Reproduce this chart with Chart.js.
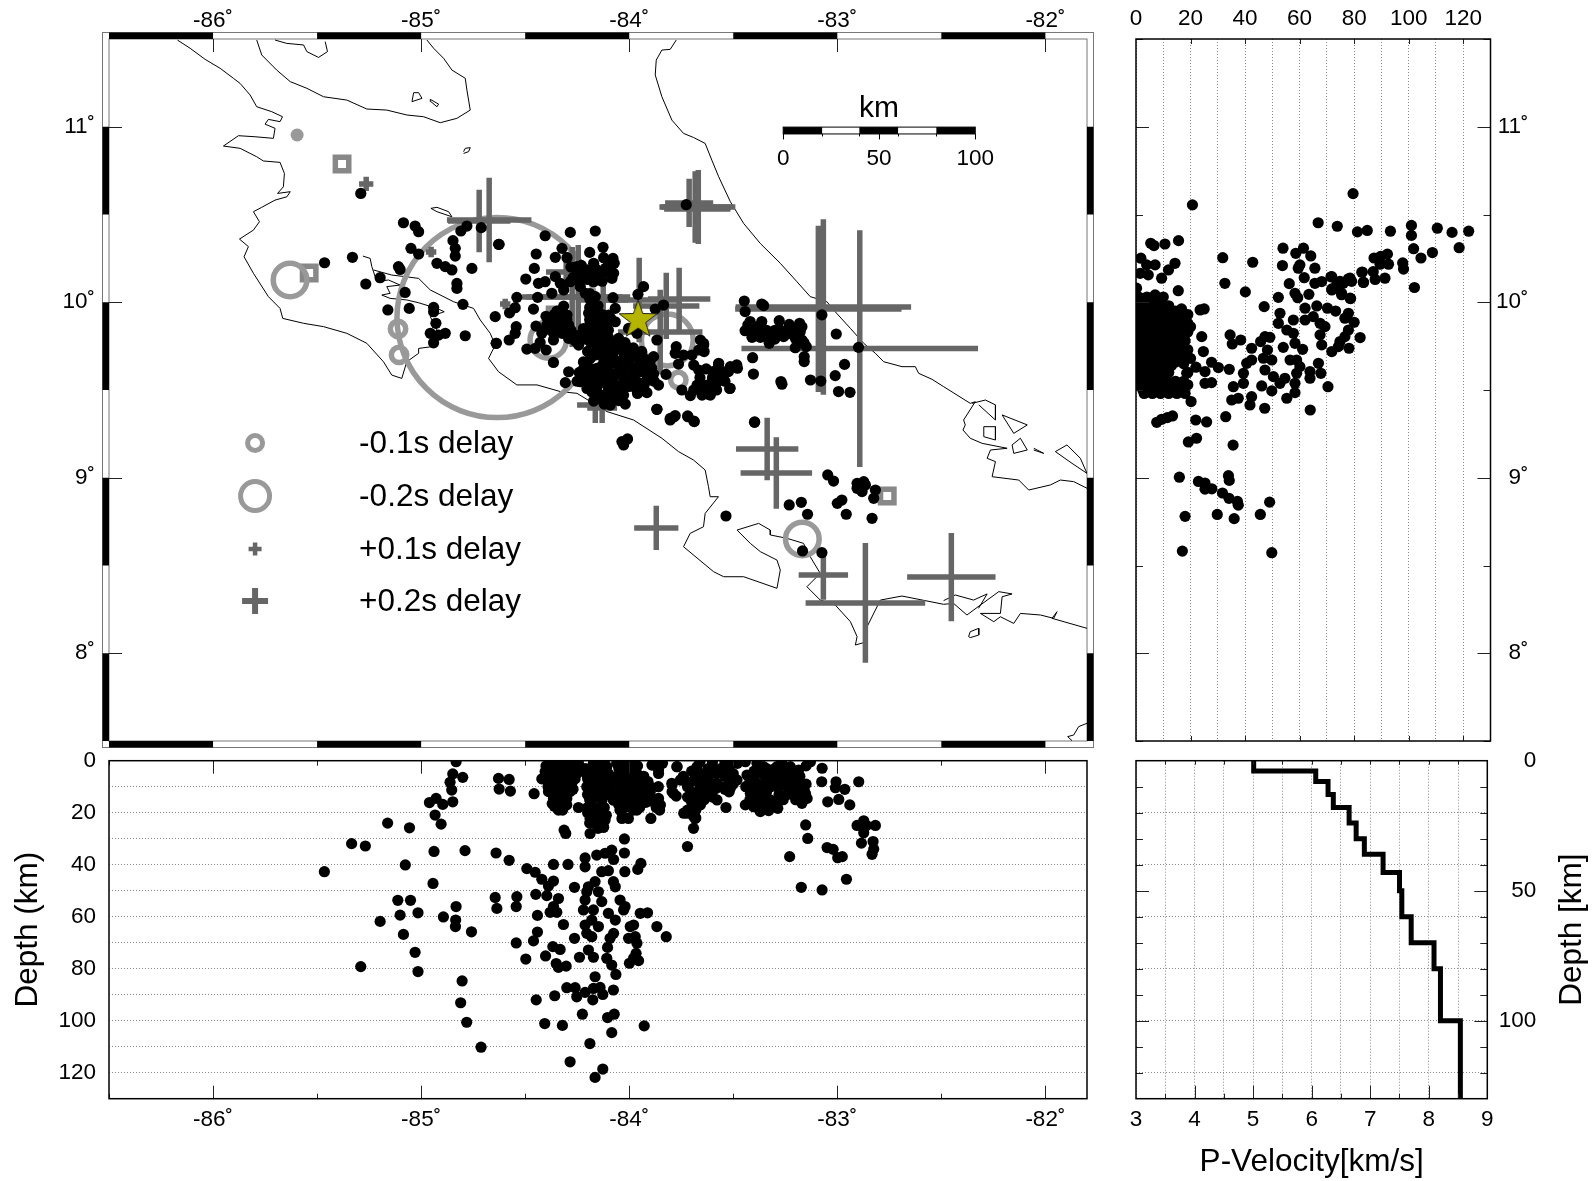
<!DOCTYPE html>
<html>
<head>
<meta charset="utf-8">
<title>Costa Rica delay map</title>
<style>
  html, body { margin: 0; background: #fff; }
  canvas { position: absolute; }
</style>
<script src="https://cdn.jsdelivr.net/npm/chart.js@4"></script>
</head>
<body>
<canvas id="map-chart" style="left:0;top:0" width="1110" height="752"></canvas>
<canvas id="lat-chart" style="left:1110px;top:0" width="484" height="752"></canvas>
<canvas id="lon-chart" style="left:0;top:745px" width="1110" height="436"></canvas>
<canvas id="vel-chart" style="left:1110px;top:745px" width="484" height="436"></canvas>
<script>
// --- DATA ---
const lonEdges = [-86.5, -86, -85.5, -85, -84.5, -84, -83.5, -83, -82.5, -82, -81.8];
const latEdges = [11.5, 11, 10.5, 10, 9.5, 9, 8.5, 8, 7.5];
const lonMajor = [-86, -85, -84, -83, -82];
const lonMinor = [-85.5, -84.5, -83.5, -82.5, -86.5];
const latMajor = [11, 10, 9, 8];
const latMinor = [11.5, 10.5, 9.5, 8.5, 7.5];
const depthLabelled = [20, 40, 60, 80, 100, 120];
const depthMinor = [10, 20, 30, 40, 60, 70, 80, 90, 110, 120];
const depthMajor = [50, 100];
const velMajor = [4, 5, 6, 7, 8];
const velMinor = [3.5, 4.5, 5.5, 6.5, 7.5, 8.5];

// coastlines, [lon, lat]
const coastPacificNorth = [[-86.171,11.494],[-86.110,11.447],[-86.038,11.384],[-85.966,11.333],[-85.902,11.276],[-85.870,11.247],[-85.822,11.181],[-85.790,11.114],[-85.718,11.086],[-85.666,11.057],[-85.678,11.029],[-85.734,11.042],[-85.750,11.015],[-85.702,10.991],[-85.710,10.934],[-85.798,10.943],[-85.878,10.949],[-85.950,10.890],[-85.870,10.877],[-85.790,10.829],[-85.758,10.805],[-85.678,10.797],[-85.657,10.734],[-85.662,10.658],[-85.690,10.620],[-85.629,10.630],[-85.645,10.601],[-85.702,10.582],[-85.766,10.541],[-85.806,10.516],[-85.777,10.459],[-85.806,10.411],[-85.873,10.360],[-85.830,10.317],[-85.851,10.259],[-85.806,10.165],[-85.734,10.032],[-85.678,9.965],[-85.665,9.908],[-85.565,9.880],[-85.469,9.861],[-85.357,9.823],[-85.261,9.766],[-85.181,9.661],[-85.141,9.585],[-85.093,9.566],[-85.069,9.661],[-85.012,9.709],[-85.012,9.737],[-84.948,9.747],[-84.924,9.842],[-84.956,9.918],[-84.889,9.946],[-84.924,9.965],[-85.012,9.997],[-85.069,10.013],[-85.149,10.022],[-85.189,10.041],[-85.149,10.051],[-85.165,10.089],[-85.101,10.098],[-85.157,10.127],[-85.213,10.117],[-85.237,10.203],[-85.245,10.250],[-85.280,10.263]];
const coastPacificSouth = [[-85.229,10.184],[-85.141,10.155],[-85.077,10.146],[-85.012,10.136],[-84.956,10.070],[-84.844,10.003],[-84.748,9.965],[-84.716,9.899],[-84.668,9.823],[-84.644,9.756],[-84.676,9.680],[-84.628,9.604],[-84.540,9.529],[-84.443,9.529],[-84.331,9.491],[-84.251,9.481],[-84.107,9.377],[-83.979,9.329],[-83.843,9.225],[-83.763,9.149],[-83.691,9.101],[-83.635,9.044],[-83.619,8.949],[-83.611,8.892],[-83.571,8.892],[-83.635,8.797],[-83.643,8.721],[-83.707,8.683],[-83.739,8.607],[-83.595,8.465],[-83.546,8.436],[-83.450,8.436],[-83.290,8.370],[-83.274,8.474],[-83.290,8.531],[-83.370,8.579],[-83.418,8.626],[-83.482,8.702],[-83.378,8.740],[-83.322,8.702],[-83.322,8.674],[-83.242,8.655],[-83.162,8.626],[-83.130,8.550],[-83.082,8.455],[-83.146,8.379],[-83.082,8.303],[-83.010,8.275],[-82.937,8.180],[-82.905,8.095],[-82.913,8.047],[-82.857,8.066],[-82.857,8.151],[-82.793,8.303],[-82.689,8.326],[-82.489,8.279],[-82.441,8.284],[-82.377,8.218],[-82.312,8.275],[-82.224,8.351],[-82.160,8.338],[-82.208,8.322],[-82.216,8.227],[-82.312,8.227],[-82.248,8.180],[-82.216,8.208],[-82.152,8.170],[-82.120,8.227],[-82.024,8.218],[-81.960,8.199],[-81.944,8.237],[-81.968,8.199],[-81.800,8.142]];
const coastBurica = [[-82.489,8.300],[-82.433,8.332],[-82.345,8.303],[-82.280,8.338],[-82.321,8.256]];
const coastCaribbean = [[-83.774,11.494],[-83.803,11.441],[-83.843,11.437],[-83.870,11.380],[-83.875,11.295],[-83.843,11.171],[-83.795,11.038],[-83.739,10.962],[-83.691,10.939],[-83.635,10.905],[-83.603,10.810],[-83.570,10.715],[-83.514,10.573],[-83.450,10.449],[-83.370,10.335],[-83.274,10.222],[-83.194,10.117],[-83.130,10.032],[-83.050,10.003],[-83.010,9.946],[-82.937,9.851],[-82.873,9.766],[-82.817,9.709],[-82.777,9.661],[-82.689,9.633],[-82.625,9.633],[-82.609,9.595],[-82.545,9.561],[-82.489,9.519],[-82.361,9.424],[-82.337,9.433],[-82.393,9.329],[-82.385,9.301],[-82.396,9.272],[-82.361,9.225],[-82.304,9.196],[-82.184,9.168],[-82.264,9.158],[-82.280,9.111],[-82.240,9.092],[-82.256,9.006],[-82.128,8.987],[-82.080,8.930],[-81.976,8.959],[-81.928,8.987],[-81.864,8.978],[-81.800,8.940]];
const lakeNicaragua = [[-85.790,11.494],[-85.766,11.409],[-85.694,11.323],[-85.629,11.257],[-85.549,11.219],[-85.469,11.171],[-85.357,11.152],[-85.261,11.101],[-85.165,11.095],[-85.069,11.067],[-84.988,11.057],[-84.908,11.023],[-84.828,11.048],[-84.764,11.095],[-84.780,11.209],[-84.788,11.276],[-84.852,11.323],[-84.892,11.390],[-84.940,11.447],[-84.972,11.494]];
const ometepe = [[-85.702,11.494],[-85.646,11.475],[-85.565,11.466],[-85.549,11.428],[-85.493,11.395],[-85.450,11.428],[-85.461,11.485]];
const islandSolentiname = [[-85.044,11.143],[-85.036,11.194],[-85.012,11.194],[-84.996,11.162],[-85.044,11.143]];
const islandSmall = [[-84.956,11.156],[-84.916,11.129],[-84.924,11.114],[-84.953,11.143],[-84.956,11.156]];
const islandNorth = [[-84.796,10.858],[-84.788,10.877],[-84.764,10.881],[-84.772,10.858],[-84.796,10.848]];
const lakeArenal = [[-84.953,10.535],[-84.924,10.541],[-84.868,10.516],[-84.852,10.487],[-84.924,10.516],[-84.953,10.535]];
const islandCoiba = [[-82.369,8.095],[-82.361,8.123],[-82.320,8.142],[-82.320,8.104],[-82.361,8.089],[-82.369,8.095]];
const coastCorner = [[-81.800,7.601],[-81.840,7.582],[-81.864,7.534],[-81.893,7.525],[-81.872,7.502]];
const bocasA = [[-82.352,9.424],[-82.288,9.443],[-82.240,9.415],[-82.240,9.329],[-82.320,9.415]];
const bocasB = [[-82.296,9.291],[-82.240,9.291],[-82.240,9.215],[-82.296,9.234],[-82.296,9.291]];
const bocasC = [[-82.208,9.358],[-82.087,9.301],[-82.152,9.253],[-82.208,9.358]];
const bocasD = [[-82.160,9.187],[-82.120,9.225],[-82.087,9.158],[-82.152,9.139],[-82.160,9.187]];
const bocasE = [[-82.056,9.168],[-82.008,9.139],[-82.056,9.158]];
const bocasF = [[-81.952,9.149],[-81.896,9.187],[-81.832,9.111],[-81.800,9.025],[-81.872,9.082],[-81.952,9.149]];
const coastLines = [coastPacificNorth, coastPacificSouth, coastBurica, coastCaribbean, lakeNicaragua, ometepe, islandSolentiname, islandSmall, islandNorth, lakeArenal, islandCoiba, coastCorner, bocasA, bocasB, bocasC, bocasD, bocasE, bocasF];

// station delays
const crossLon = [-83.091,-83.067,-82.892,-83.683,-83.668,-83.712,-83.673,-84.721,-84.673,-83.337,-83.293,-83.870,-83.067,-82.865,-82.452,-84.163,-84.130,-85.264,-84.952,-84.596,-83.760,-83.822,-83.952,-83.851,-84.245,-84.274,-84.303,-84.125];
const crossLat = [9.962,9.973,9.736,10.543,10.543,10.566,10.531,10.463,10.469,9.164,9.027,8.714,8.446,8.287,8.434,9.415,9.397,10.674,10.286,9.990,10.019,9.979,10.013,9.830,10.030,10.030,10.172,10.013];
const crossDelay = [1.28,1.35,1.82,0.55,0.57,0.37,0.51,0.48,0.65,0.48,0.55,0.34,0.38,0.92,0.68,0.28,0.23,0.11,0.08,0.08,0.48,0.51,0.65,0.65,0.80,0.77,0.31,0.38];
const ringLon = [-84.635,-85.630,-85.111,-85.106,-83.168,-83.764,-83.817,-84.389];
const ringLat = [9.913,10.127,9.848,9.700,8.651,9.557,9.785,9.785];
const ringDelay = [1.43,0.24,0.11,0.11,0.24,0.11,0.37,0.26];
const squareStations = [[-85.380,10.788],[-85.538,10.167],[-82.760,8.896],[-84.356,9.927]];
const filledStation = [[-85.596,10.953]];
const epicenter = [[-83.957,9.899]];

// delay legend
const legendLabels = ['-0.1s delay', '-0.2s delay', '+0.1s delay', '+0.2s delay'];
const legendDelays = [-0.1, -0.2, 0.1, 0.2];
const legendMarkLat = [9.198, 8.896, 8.594, 8.298];
const legendTextLat = [9.188, 8.886, 8.584, 8.288];
const legendMarkLon = -85.798;
const legendTextLon = -85.298;

// km scale bar
const kmBarLon = [-83.26, -83.072, -82.894, -82.707, -82.524, -82.337];
const kmLabels = ['0', '50', '100'];
const kmLabelLon = [-83.26, -82.8, -82.337];
const kmBarLat = [10.998, 10.959];

// hypocentres in map view, [lon, lat]
const quakesMap = [[-85.290,10.620],[-85.085,10.453],[-85.029,10.434],[-85.012,10.402],[-85.049,10.307],[-85.012,10.275],[-84.847,10.351],[-84.836,10.307],[-84.836,10.263],[-84.924,10.222],[-84.884,10.203],[-84.852,10.184],[-84.828,10.107],[-84.828,10.079],[-84.756,10.193],[-84.628,10.330],[-84.711,10.425],[-84.780,10.434],[-84.809,10.406],[-85.109,10.203],[-85.101,10.187],[-85.330,10.256],[-85.464,10.225],[-85.197,10.140],[-85.266,10.104],[-85.077,10.056],[-85.160,9.956],[-85.057,9.965],[-84.940,9.971],[-84.940,9.946],[-84.799,9.988],[-84.929,9.880],[-84.956,9.823],[-84.916,9.813],[-84.884,9.823],[-84.940,9.769],[-84.788,9.809],[-84.639,9.766],
[-84.625,10.330],[-84.404,10.379],[-84.283,10.398],[-84.163,10.406],[-84.447,10.275],[-84.323,10.307],[-84.355,10.256],[-84.299,10.254],[-84.190,10.284],[-84.126,10.313],[-84.456,10.193],[-84.497,10.132],[-84.436,10.108],[-84.404,10.117],[-84.355,10.146],[-84.331,10.108],[-84.372,10.051],[-84.315,10.070],[-84.283,10.117],[-84.251,10.203],[-84.248,10.165],[-84.243,10.127],[-84.235,10.089],[-84.203,10.184],[-84.171,10.222],[-84.123,10.254],[-84.078,10.250],[-84.072,10.222],[-84.115,10.193],[-84.075,10.165],[-84.083,10.136],[-84.139,10.155],[-84.171,10.117],[-84.540,10.028],[-84.440,10.028],[-84.548,9.969],[-84.575,9.940],[-84.460,9.961],[-84.644,9.918],[-84.315,9.978],[-84.347,9.950],[-84.299,9.927],[-84.372,9.899],[-84.331,9.880],[-84.291,9.870],[-84.396,9.870],[-84.448,9.864],[-84.543,9.861],[-84.548,9.823],[-84.577,9.785],[-84.639,9.766],[-84.420,9.823],[-84.364,9.823],[-84.364,9.785],[-84.323,9.823],[-84.291,9.794],[-84.428,9.771],[-84.492,9.733],[-84.452,9.737],[-84.399,9.728],[-84.364,9.657],[-84.291,9.604],[-84.307,9.542],
[-84.211,10.051],[-84.163,10.032],[-84.171,9.984],[-84.195,9.937],[-84.155,9.889],[-84.211,9.842],[-84.171,9.823],[-84.123,9.804],[-84.243,9.756],[-84.187,9.775],[-84.155,9.737],[-84.099,9.927],[-84.078,10.026],[-84.067,9.965],[-84.067,9.889],[-84.107,9.880],[-84.051,9.794],[-84.091,9.737],[-84.003,9.851],[-83.963,9.823],[-84.051,9.737],[-83.995,9.737],[-83.955,9.699],[-84.027,9.680],[-84.075,9.680],[-84.107,9.642],[-84.187,9.680],[-84.203,9.642],[-84.155,9.623],[-84.091,9.595],[-84.035,9.604],[-83.979,9.623],[-83.923,9.642],[-83.883,9.690],[-83.891,9.623],[-83.883,9.591],[-83.823,9.589],[-83.859,9.528],[-83.915,9.485],[-83.963,9.500],[-83.963,9.547],[-84.027,9.547],[-84.067,9.528],[-84.123,9.547],[-84.187,9.547],[-84.235,9.547],[-84.203,9.509],[-84.155,9.490],[-84.107,9.471],[-84.027,9.471],[-84.019,9.420],[-84.091,9.414],[-84.123,9.433],[-84.171,9.437],[-83.867,9.785],[-83.931,10.089],[-83.958,10.045],[-83.835,9.984],[-83.875,9.961],[-83.867,9.390],[-83.803,9.338],[-83.779,9.354],[-83.719,9.352],[-83.690,9.323],
[-83.774,9.747],[-83.779,9.709],[-83.739,9.699],[-83.698,9.699],[-83.763,9.648],[-83.658,9.785],[-83.642,9.756],[-83.666,9.728],[-83.690,9.642],[-83.666,9.614],[-83.570,9.652],[-83.594,9.604],[-83.546,9.604],[-83.514,9.633],[-83.578,9.547],[-83.626,9.528],[-83.674,9.528],[-83.690,9.500],[-83.747,9.500],[-83.706,9.468],[-83.650,9.471],[-83.610,9.471],[-83.517,9.509],[-84.123,9.680],[-83.995,9.680],[-84.147,9.566],[-83.995,9.585],[-83.947,9.604],[-84.187,9.595],[-84.107,9.550],[-84.050,9.650],
[-84.20,9.72],[-84.16,9.70],[-84.12,9.72],[-84.08,9.70],[-84.03,9.72],[-83.99,9.70],[-83.95,9.66],[-84.18,9.62],[-84.13,9.64],[-84.09,9.65],[-84.05,9.62],[-84.00,9.64],[-83.95,9.63],[-84.22,9.58],[-84.16,9.58],[-84.12,9.59],[-84.07,9.58],[-84.02,9.58],[-83.98,9.57],[-84.20,9.53],[-84.15,9.53],[-84.10,9.51],[-84.06,9.49],[-84.00,9.52],[-84.13,9.47],[-84.08,9.44],[-84.11,9.76],[-84.02,9.77],[-84.06,9.76],[-84.13,9.78],[-84.28,9.84],[-84.25,9.81],[-84.32,9.86],[-84.35,9.85],[-84.26,9.78],[-84.10,9.84],[-84.14,9.86],[-84.19,9.87],[-84.18,9.92],[-84.14,9.92],[-84.15,9.98],[-84.19,10.02],[-84.31,9.90],[-84.34,9.92],[-84.27,10.14],[-84.22,10.14],[-84.18,10.15],[-84.13,10.12],[-84.10,10.17],[-84.24,10.18],
[-84.28,10.20],[-84.23,10.21],[-84.20,10.16],[-84.16,10.19],[-84.13,10.16],[-84.10,10.21],[-84.09,10.18],[-84.20,10.13],[-84.40,9.92],[-84.36,9.93],[-84.33,9.95],[-84.38,9.87],[-84.34,9.87],[-84.30,9.90],[-84.41,9.84],[-84.37,9.84],[-84.33,9.85],[-84.30,9.84],[-84.19,10.05],[-84.17,10.0],[-84.19,9.97],[-84.17,9.94],[-84.15,9.92],[-84.19,9.90],[-84.13,9.93],[-84.12,9.88],[-84.09,9.91],[-84.22,9.85],[-84.18,9.84],[-84.14,9.82],[-84.10,9.80],[-84.21,9.79],[-84.16,9.79],[-84.08,9.76],[-84.04,9.76],[-84.22,9.66],[-84.22,9.62],[-84.25,9.55],[-84.24,9.60],[-83.92,9.60],[-83.90,9.66],[-83.92,9.55],[-83.88,9.55],[-83.93,9.68],[-83.98,9.74],[-83.94,9.72],[-84.03,9.50],[-84.18,9.49],[-84.05,9.44],[-84.12,9.42],[-83.96,9.48],[-83.93,9.52],[-83.63,9.62],[-83.60,9.57],[-83.56,9.57],[-83.62,9.50],[-83.58,9.50],[-83.54,9.55],[-83.66,9.57],[-83.43,9.87],[-83.39,9.86],[-83.34,9.84],[-83.30,9.84],[-83.24,9.84],[-83.21,9.85],[-83.17,9.86],[-83.19,9.81],[-83.16,9.77],[-83.30,9.79],[-83.37,9.80],[-83.41,9.80],[-83.34,9.80],[-83.24,9.82],
[-83.447,10.007],[-83.443,9.947],[-83.363,9.990],[-83.354,9.981],[-83.419,9.890],[-83.363,9.890],[-83.279,9.895],[-83.231,9.874],[-83.181,9.880],[-83.443,9.838],[-83.403,9.823],[-83.371,9.842],[-83.355,9.804],[-83.327,9.766],[-83.306,9.814],[-83.274,9.842],[-83.258,9.804],[-83.178,9.833],[-83.202,9.795],[-83.170,9.785],[-83.202,9.741],[-83.149,9.747],[-83.159,9.690],[-83.159,9.662],[-83.074,9.928],[-83.005,9.819],[-82.898,9.743],[-82.965,9.646],[-83.010,9.582],[-83.079,9.551],[-83.129,9.557],[-82.994,9.491],[-82.939,9.487],[-83.407,9.684],[-83.403,9.591],[-83.271,9.548],[-83.266,9.533],[-83.398,9.316],[-83.515,9.510],[-83.483,9.643],[-83.480,9.624],[-83.523,9.605],[-83.571,9.643],[-83.595,9.605],[-83.563,9.576],[-83.587,9.529],[-83.619,9.476],[-83.659,9.500],[-83.643,9.766],[-83.640,9.719],
[-83.867,9.390],[-83.803,9.329],[-83.784,9.348],[-83.718,9.348],[-83.687,9.320],[-84.027,9.187],[-84.008,9.221],[-84.035,9.206],[-83.397,9.318],[-83.046,9.016],[-83.018,8.981],[-82.905,8.968],[-82.873,8.978],[-82.905,8.940],[-82.881,8.921],[-82.865,8.959],[-82.817,8.930],[-82.825,8.883],[-82.978,8.873],[-83.000,8.854],[-82.957,8.792],[-82.833,8.769],[-83.231,8.845],[-83.173,8.860],[-83.143,8.792],[-83.535,8.782],[-83.167,8.583],[-83.074,8.573],[-83.726,10.556]];

// hypocentres, longitude against depth
const quakesLonDepth = [[-84.832,0.4],[-84.848,5.1],[-84.800,6.4],[-84.861,8.3],[-84.853,11.3],[-84.628,6.8],[-84.577,7.2],[-84.625,10.9],[-84.571,11.7],[-84.457,12.7],[-84.928,14.5],[-84.960,16.1],[-84.896,16.8],[-84.848,15.8],[-84.933,20.9],[-84.904,24.4],[-85.161,24.0],[-85.056,25.8],[-85.334,31.9],[-85.268,32.8],[-84.938,34.9],[-84.789,34.6],[-84.640,35.5],[-84.577,38.3],[-85.076,40.1],[-85.465,42.7],[-84.943,47.2],[-84.492,41.5],[-84.452,42.9],[-84.420,45.6],[-84.388,48.2],[-84.364,46.3],[-84.364,39.9],[-84.294,39.9],[-84.212,37.4],[-84.212,40.8],[-84.156,36.3],[-84.116,35.6],[-84.084,34.4],[-84.075,38.0],[-84.023,30.1],[-84.023,35.5],[-83.944,39.5],[-83.959,41.8],[-84.021,42.7],[-84.100,42.3],[-84.132,42.7],[-84.076,46.5],[-84.067,48.5],[-84.263,48.7],[-84.196,48.5],[-84.164,46.5],[-84.204,50.4],[-84.148,50.4],[-84.449,51.4],[-84.396,51.9],[-84.340,53.0],[-84.212,53.6],[-84.132,54.2],[-84.044,53.6],[-84.020,56.1],[-84.644,52.6],[-84.540,52.3],[-84.543,56.1],[-84.636,56.8],[-85.112,53.7],[-85.051,53.7],[-84.832,56.1],[-85.101,59.4],[-85.015,58.5],[-84.893,60.1],[-84.834,61.3],[-84.835,63.8],[-85.197,61.8],[-84.758,65.8],[-85.085,66.8],[-84.441,59.5],[-84.364,56.1],[-84.380,58.3],[-84.348,58.3],[-84.220,57.4],[-84.172,57.4],[-84.100,58.7],[-84.067,61.3],[-84.027,57.4],[-83.947,58.7],[-83.912,58.5],[-84.316,63.0],[-84.212,63.2],[-84.180,61.3],[-84.148,63.8],[-84.204,66.4],[-84.180,67.7],[-84.075,66.4],[-84.092,68.3],[-84.104,71.8],[-83.979,63.2],[-83.995,63.8],[-84.003,68.3],[-83.971,67.7],[-83.963,70.2],[-83.867,63.8],[-83.822,67.7],[-84.441,65.9],[-84.460,69.3],[-84.543,70.1],[-84.263,68.3],[-84.367,71.5],[-84.332,72.6],[-84.196,72.8],[-84.172,75.6],[-84.239,75.6],[-84.402,75.1],[-84.497,76.3],[-84.351,78.0],[-84.340,79.5],[-84.303,79.0],[-84.108,76.0],[-84.084,78.6],[-84.064,82.2],[-83.967,74.1],[-83.979,76.0],[-83.955,76.9],[-83.999,77.9],[-85.029,73.7],[-85.290,79.2],[-85.015,81.1],[-84.803,84.7],[-84.164,83.1],[-84.300,87.3],[-84.260,87.3],[-84.252,90.8],[-84.212,89.1],[-84.172,87.6],[-84.140,87.2],[-84.127,89.9],[-84.076,88.2],[-84.175,92.0],[-84.358,90.4],[-84.447,92.0],[-84.810,93.1],[-84.225,97.5],[-84.072,97.5],[-84.104,98.8],[-84.781,100.6],[-84.406,101.1],[-84.321,101.8],[-83.928,102.0],[-84.084,104.6],[-84.189,108.8],[-84.712,110.2],[-84.284,115.8],[-84.127,118.6],[-84.164,121.8],
[-84.313,26.7],[-84.305,28],[-84.188,28],[-83.720,33.0],[-84.044,19],[-84.031,21.5],[-84.004,22.2],[-83.896,22.2],[-84.404,4.2],[-84.364,3.6],[-84.300,2.9],[-84.252,4.9],[-84.388,8.7],[-84.332,8.7],[-84.276,8.7],[-84.388,11.9],[-84.332,12.6],[-84.284,11.9],[-84.348,17.0],[-84.316,17.0],[-84.364,1.0],[-84.300,1.0],[-84.244,1.0],[-84.364,14.5],[-84.300,14.5],[-84.204,5.5],[-84.172,1.0],[-84.108,2.3],[-84.204,10],[-84.188,13.8],[-84.188,17],[-84.244,18],[-84.188,22.2],[-84.148,20.9],[-84.124,25.6],[-84.116,22.8],[-84.156,7.4],[-84.116,8.7],[-84.076,15.1],[-84.060,1],[-83.995,1],[-83.963,4.9],[-84.060,6.1],[-84.011,7.4],[-83.963,10],[-83.995,13.2],[-83.947,15.1],[-83.963,19],[-83.899,10],[-83.859,14.5],[-83.854,19],[-83.875,1],[-83.859,4.9],[-83.771,2.3],[-83.795,8.7],[-83.787,12.6],[-83.747,7.4],[-83.691,12.6],[-83.675,17],[-83.723,20.2],[-83.683,22.2],[-83.691,26],
[-83.073,2.9],[-83.075,8.1],[-83.006,8.1],[-83.009,10.4],[-82.964,11.0],[-82.897,8.1],[-83.046,15.8],[-82.993,14.9],[-82.940,17.0],[-82.873,23.1],[-82.905,24.9],[-82.860,24.9],[-82.817,24.9],[-82.873,27.7],[-82.884,31.7],[-82.828,31.1],[-82.825,34.0],[-82.833,36.0],[-83.049,33.4],[-83.020,34.1],[-82.998,37.3],[-82.976,36.9],[-83.152,24.7],[-83.142,29.9],[-83.229,36.9],[-82.956,45.6],[-83.173,48.7],[-83.073,49.7],[-83.690,21.5],[-83.738,20.2],[-83.658,17],[-83.626,11.3],[-83.698,12.6],[-83.578,15.1],[-83.535,18],[-83.514,10.6],[-83.578,8.7],[-83.482,7.4],[-83.658,6.1],[-83.594,3.6],[-83.674,2.3],[-83.522,1.7],[-83.754,7.4],[-83.794,9.3],[-83.794,11.9],[-83.774,13.6],[-83.859,3.6],[-83.891,1.7],[-83.899,12],[-83.875,16],[-83.770,2.3],[-83.434,5.5],[-83.354,2.3],[-83.290,2.3],[-83.386,8.7],[-83.322,7.4],[-83.290,10],[-83.418,12.6],[-83.370,12.6],[-83.322,15.1],[-83.442,17],[-83.402,17.7],[-83.370,19.6],[-83.330,19.2],[-83.286,18.3],[-83.226,11.3],[-83.178,9.3],[-83.210,12.6],[-83.153,12.6],[-83.145,14.5],[-83.170,16.4],[-83.186,3.6],[-83.226,2.3],[-83.129,0.4],[-83.442,0.4],[-83.266,1],[-83.386,1],[-84.115,2.3],[-84.043,4.9],[-83.971,4.9],[-84.115,8.7],[-84.043,10],[-83.971,10.6],[-84.075,15.1],[-83.987,15.1],[-83.947,15.8],[-84.043,19],[-84.035,22.2],[-84.131,22.8],[-84.123,25.6],
[-84.35,6],[-84.31,6],[-84.27,6.5],[-84.37,10.5],[-84.31,10.5],[-84.36,14],[-84.33,15],[-84.30,12],[-84.40,6.5],[-84.34,2],[-84.27,2.5],[-84.39,10],[-84.36,17.5],[-84.18,4],[-84.14,4],[-84.10,5],[-84.18,8],[-84.14,10],[-84.20,13],[-84.16,14],[-84.12,12],[-84.16,18],[-84.12,18],[-84.17,24],[-84.14,23],[-84.20,18],[-84.09,10],[-84.03,3],[-83.99,4],[-84.03,8],[-83.99,8],[-83.96,7],[-84.02,12],[-83.98,11],[-84.06,13],[-84.0,17],[-83.97,16],[-84.03,16],[-83.93,13],
[-83.70,8],[-83.66,9],[-83.62,7],[-83.58,5],[-83.54,6],[-83.70,4],[-83.62,3],[-83.56,10],[-83.60,12],[-83.66,13],[-83.52,8],[-83.64,15],[-83.70,16],[-83.68,19],[-83.40,4],[-83.36,5],[-83.32,4],[-83.28,5],[-83.24,5],[-83.20,6],[-83.42,8],[-83.35,9],[-83.30,8],[-83.26,8],[-83.22,8],[-83.38,15],[-83.34,12],[-83.40,10],[-83.28,13],[-83.30,16],[-83.18,13],[-83.20,15],[-83.35,17],[-83.24,10],[-83.15,2],[-83.66,0.5],[-83.60,0.5],[-83.54,0.5],[-83.48,1],[-83.88,0.5],[-83.84,1],[-84.16,0.5],[-84.12,0.5],[-84.28,0.5],[-84.02,0.5],
[-84.40,2],[-84.36,7],[-84.33,5],[-84.28,5],[-84.24,3],[-84.35,9],[-84.30,9],[-84.37,12.5],[-84.34,11],[-84.31,13.5],[-84.27,11],[-84.35,16],[-84.32,19],[-84.34,19],[-84.30,17],[-84.37,16.5],[-84.33,1],[-84.27,1],[-84.26,7],[-84.39,5],[-84.42,7],[-84.21,3],[-84.18,6],[-84.15,3],[-84.12,6],[-84.20,7],[-84.17,11],[-84.14,7],[-84.10,8],[-84.19,15],[-84.16,11],[-84.13,15],[-84.20,20],[-84.17,20],[-84.14,19],[-84.11,21],[-84.15,26],[-84.19,24],[-84.10,13],[-84.07,9],[-84.05,3],[-84.02,6],[-83.99,6],[-83.96,2],[-83.93,6],[-84.04,10],[-84.0,10],[-83.97,13],[-83.94,10],[-84.04,14],[-84.0,14],[-84.05,17],[-84.02,18],[-83.98,19],[-83.95,18],[-83.92,16],[-83.90,14],[-83.88,16],[-83.91,8],[-83.86,10],[-83.87,18],[-83.85,17],[-83.72,10],[-83.74,6],[-83.68,6],[-83.64,5],[-83.60,3],[-83.56,3],[-83.52,3],[-83.50,5],[-83.66,11],[-83.62,10],[-83.58,10.5],[-83.54,11],[-83.50,9],[-83.72,14],[-83.68,15],[-83.60,14],[-83.66,17],[-83.72,19],[-83.68,22],[-83.52,12],[-83.70,12],[-83.44,10],[-83.40,6.5],[-83.38,3],[-83.34,3],[-83.30,3],[-83.26,3],[-83.22,4],[-83.18,6],[-83.38,11],[-83.34,7],[-83.30,6],[-83.26,6],[-83.22,6],[-83.40,13],[-83.36,14],[-83.32,10],[-83.28,10],[-83.24,13],[-83.21,10],[-83.26,15],[-83.42,15],[-83.33,17],[-83.38,18],[-83.16,11],[-83.19,11],[-83.17,14],[-83.15,9]];

// hypocentres, depth against latitude
const quakesDepthLat = [[20.7,10.555],[79.6,10.619],[66.8,10.453],[73.8,10.433],[81.2,10.401],[84.8,10.409],[93.3,10.405],[101.0,10.438],[101.0,10.381],[110.5,10.422],[115.9,10.398],[122.0,10.405],[118.5,10.311],[108.7,10.283],[104.5,10.252],[101.8,10.305],[102.1,10.084],[97.8,10.224],[98.1,10.189],[92.2,10.274],[89.7,10.261],[87.3,10.252],[92.6,10.217],[89.5,10.217],[87.0,10.174],[91.3,10.137],[87.7,10.130],[83.0,10.172],[83.4,10.113],[79.1,10.119],[77.9,10.134],[74.8,10.119],[71.5,10.145],[71.8,10.076],[75.4,10.043],[78.7,10.021],
[5.4,10.336],[6.6,10.323],[10.6,10.332],[15.6,10.351],[1.8,10.251],[1.5,10.165],[3.9,10.213],[7,10.213],[9.4,10.137],[11.9,10.184],[14.3,10.222],[4.5,10.156],[0.2,10.080],[15.5,10.066],[7,10.042],[31.8,10.254],[32.6,10.108],[42.8,10.228],[40.1,10.059],[47,9.975],[52.2,10.028],[53.9,10.308],[58.6,10.279],[61.4,10.308],[64.1,10.264],[53.7,10.209],[59.5,10.194],[60.1,10.213],[65.6,10.194],[61.7,10.140],[56.2,10.106],[58.3,10.051],[59.3,10.026],[63.4,10.045],[71.8,10.146],[68.1,10.118],[65.6,10.108],[73.6,10.099],[71.8,10.070],[76,10.108],[78.5,10.137],[75.4,10.051],[78.5,10.023],[82.8,10.171],[83.4,10.114],[62,9.966],[66.3,9.979],[70.2,9.966],[73.2,9.950],[77.9,9.937],[76.6,9.909],[80,9.886],[77.9,9.842],[76.6,9.804],[74.8,9.776],[71.8,9.719],[74.2,9.747],[78.1,9.738],[82.2,9.799],[52.8,9.937],[52.2,9.880],[57.7,9.899],[62,9.899],[65,9.918],[67.5,9.880],[69.3,9.861],[67.5,9.814],[68.1,9.757],[55.3,9.842],[57.7,9.823],[58.3,9.766],[61.1,9.732],[54,9.743],[56.5,9.671],[58.9,9.671],[47.3,9.804],[49.1,9.800],[45.7,9.776],[42.4,9.738],[48.2,9.728],[46.7,9.681],[49.8,9.671],[34.5,9.814],[38.4,9.785],[35.3,9.762],[47.3,9.614],[50.4,9.576],[54.6,9.567],[58.9,9.595],[60.1,9.633],[58.3,9.538],[46.1,9.523],[49.8,9.495],[52.8,9.538],[55.3,9.453],[58.3,9.485],[63.8,9.605],[63.8,9.567],[66.9,9.652],[67.8,9.595],[70.4,9.519],[40.6,9.652],[42.4,9.671],[39.4,9.595],[39.4,9.538],[35.7,9.519],[35.1,9.443],[37.5,9.453],[42.4,9.462],[41.8,9.415],[47.2,9.396],[63.9,9.386],[32.9,9.348],[7.6,9.316],[9.4,9.333],[11.5,9.343],[13.4,9.352],[21.9,9.329],[25.9,9.318],[16.7,9.962],[25,9.962],[23.5,9.956],[24.1,9.804],[24.7,9.719],[27.7,9.658],[30.2,9.628],[34.2,9.618],[25.3,9.605],[27.7,9.542],[25.3,9.538],[20.2,9.434],[18.6,9.595],
[1,10.03],[4,10.03],[7,10.03],[10,10.03],[1,9.98],[4,9.98],[7,9.98],[10,9.98],[12,9.98],[1,9.93],[4,9.93],[7,9.93],[10,9.93],[13,9.93],[16,9.93],[19,9.93],[1,9.88],[4,9.88],[7,9.88],[10,9.88],[13,9.88],[16,9.88],[19,9.88],[20,9.86],[1,9.83],[4,9.83],[7,9.83],[10,9.83],[13,9.83],[16,9.83],[19,9.83],[1,9.78],[4,9.78],[7,9.78],[10,9.78],[13,9.78],[16,9.78],[18,9.78],[1,9.73],[4,9.73],[7,9.73],[10,9.73],[13,9.73],[16,9.73],[19,9.73],[1,9.68],[4,9.68],[7,9.68],[10,9.68],[13,9.68],[16,9.68],[20,9.68],[1,9.63],[4,9.63],[7,9.63],[10,9.63],[13,9.64],[1,9.58],[4,9.58],[7,9.58],[10,9.58],[12,9.6],[22,9.63],[1,9.53],[4,9.53],[7,9.53],[10,9.53],[13,9.53],[16,9.53],[19,9.53],[3,9.48],[6,9.48],[9,9.48],[12,9.48],[15,9.48],[18,9.48],
[2.5,10],[5.5,10],[8.5,10],[2.5,9.95],[5.5,9.95],[8.5,9.95],[11.5,9.95],[14.5,9.95],[2.5,9.9],[5.5,9.9],[8.5,9.9],[11.5,9.9],[14.5,9.9],[17.5,9.9],[2.5,9.85],[5.5,9.85],[8.5,9.85],[11.5,9.85],[14.5,9.85],[17.5,9.85],[2.5,9.8],[5.5,9.8],[8.5,9.8],[11.5,9.8],[14.5,9.8],[17.5,9.8],[2.5,9.75],[5.5,9.75],[8.5,9.75],[11.5,9.75],[14.5,9.75],[17.5,9.75],[2.5,9.7],[5.5,9.7],[8.5,9.7],[11.5,9.7],[14.5,9.7],[17.5,9.7],[2.5,9.65],[5.5,9.65],[8.5,9.65],[11.5,9.65],[14.5,9.66],[17.5,9.65],[2.5,9.6],[5.5,9.6],[8.5,9.6],[11.5,9.62],[2.5,9.55],[5.5,9.55],[8.5,9.55],[11.5,9.55],[14.5,9.55],[17.5,9.55],[2.5,9.5],[5.5,9.5],[8.5,9.5],[11.5,9.5],[14.5,9.5],[17.5,9.5],[19,9.6],
[35.6,9.186],[22.2,9.225],[19.2,9.204],[15.9,9.003],[33.9,9.012],[34.2,8.985],[22.9,8.979],[25.3,8.970],[25.3,8.935],[27.8,8.937],[31.7,8.913],[34.1,8.883],[37.2,8.865],[37.5,8.844],[36,8.767],[29.8,8.791],[18,8.780],[45.6,8.791],[49,8.861],[17,8.582],[49.8,8.573]];

// velocity model
const velocitySteps = [5.01,5.01,6.07,6.07,6.28,6.28,6.37,6.37,6.64,6.64,6.76,6.76,6.9,6.9,7.22,7.22,7.5,7.5,7.54,7.54,7.7,7.7,8.09,8.09,8.2,8.2,8.54,8.54];
const depthSteps = [0,4,4,8,8,13,13,18,18,24,24,30,30,36,36,43,43,50,50,60,60,70,70,80,80,100,100,130];

// --- STYLE ---
const FONT = 'Liberation Sans';
const tickFont = { family: FONT, size: 22.5 };
const titleFont = { family: FONT, size: 31.5 };
const DOT_R = 5.6;
const CROSS_PX = 65;
const RING_PX = 70;

const asXY = (lons, lats) => lons.map((lon, i) => ({ x: lon, y: lats[i] }));
const degLabel = (v) => Number.isInteger(v) ? v + '˚' : '';
// axis boxes are fixed so the panels line up, label overhang must not move them
const fixWidth = (w) => (axis) => { axis.width = w; axis.paddingTop = 0; axis.paddingBottom = 0; };
const fixHeight = (h) => (axis) => { axis.height = h; axis.paddingLeft = 0; axis.paddingRight = 0; };
const isOneOf = (list) => (v) => list.includes(v) ? String(v) : '';

const baseOptions = (extra) => Object.assign({
    responsive: false,
    animation: false,
    events: [],
    plugins: { legend: { display: false }, tooltip: { enabled: false } },
    elements: { line: { tension: 0 } }
}, extra);

const axisBase = (extra) => Object.assign({
    type: 'linear',
    border: { display: false },
    grid: { display: false, drawTicks: false }
}, extra);

const dotted = (colorFn) => ({
    color: colorFn || '#8a8a8a',
    lineWidth: 1,
    drawTicks: false
});

const dotsDataset = (points) => ({
    data: points,
    pointRadius: DOT_R,
    pointBackgroundColor: '#000',
    pointBorderWidth: 0,
    showLine: false
});

// inward tick marks and the plain frame of a panel
const panelFrame = (specs, framed) => ({
    id: 'panelFrame',
    afterDatasetsDraw(chart) {
        const { ctx, chartArea: a, scales } = chart;
        ctx.save();
        ctx.strokeStyle = '#222';
        ctx.lineWidth = 1;
        specs.forEach(({ scale, side, values, len }) => {
            values.forEach((v) => {
                const p = Math.round(scales[scale].getPixelForValue(v)) + 0.5;
                ctx.beginPath();
                if (side === 'top') { ctx.moveTo(p, a.top); ctx.lineTo(p, a.top + len); }
                if (side === 'bottom') { ctx.moveTo(p, a.bottom); ctx.lineTo(p, a.bottom - len); }
                if (side === 'left') { ctx.moveTo(a.left, p); ctx.lineTo(a.left + len, p); }
                if (side === 'right') { ctx.moveTo(a.right, p); ctx.lineTo(a.right - len, p); }
                ctx.stroke();
            });
        });
        if (framed) {
            ctx.strokeStyle = '#000';
            ctx.lineWidth = 1.5;
            ctx.strokeRect(a.left, a.top, a.right - a.left, a.bottom - a.top);
        }
        ctx.restore();
    }
});

// checkered map border, from the same 0.5 degree edges as the axes
const checkerFrame = {
    id: 'checkerFrame',
    beforeDatasetsDraw(chart) {
        const { ctx, chartArea: a, scales: { x, y } } = chart;
        const T = 6.5;
        ctx.save();
        ctx.fillStyle = '#fff';
        ctx.strokeStyle = '#777';
        ctx.lineWidth = 1;
        ctx.fillRect(a.left - T, a.top - T, a.right - a.left + 2 * T, a.bottom - a.top + 2 * T);
        ctx.strokeRect(a.left - T, a.top - T, a.right - a.left + 2 * T, a.bottom - a.top + 2 * T);
        ctx.strokeRect(a.left, a.top, a.right - a.left, a.bottom - a.top);
        ctx.fillStyle = '#000';
        lonEdges.slice(0, -1).forEach((lon, i) => {
            if (i % 2) return;
            const x0 = x.getPixelForValue(lon);
            const x1 = x.getPixelForValue(lonEdges[i + 1]);
            ctx.fillRect(x0, a.top - T, x1 - x0, T);
            ctx.fillRect(x0, a.bottom, x1 - x0, T);
        });
        latEdges.slice(0, -1).forEach((lat, i) => {
            if (!(i % 2)) return;
            const y0 = y.getPixelForValue(lat);
            const y1 = y.getPixelForValue(latEdges[i + 1]);
            ctx.fillRect(a.left - T, y0, T, y1 - y0);
            ctx.fillRect(a.right, y0, T, y1 - y0);
        });
        ctx.restore();
    }
};

// km bar and the text inside the map
const mapLabels = {
    id: 'mapLabels',
    afterDatasetsDraw(chart) {
        const { ctx, scales: { x, y } } = chart;
        const barTop = y.getPixelForValue(kmBarLat[0]);
        const barBottom = y.getPixelForValue(kmBarLat[1]);
        ctx.save();
        ctx.fillStyle = '#000';
        ctx.textBaseline = 'middle';
        ctx.textAlign = 'left';
        ctx.font = `31.5px "${FONT}"`;
        legendLabels.forEach((label, i) => {
            ctx.fillText(label, x.getPixelForValue(legendTextLon), y.getPixelForValue(legendTextLat[i]));
        });

        kmBarLon.slice(0, -1).forEach((lon, i) => {
            const x0 = x.getPixelForValue(lon);
            const x1 = x.getPixelForValue(kmBarLon[i + 1]);
            ctx.fillStyle = i % 2 ? '#fff' : '#000';
            ctx.fillRect(x0, barTop, x1 - x0, barBottom - barTop);
        });
        ctx.strokeStyle = '#000';
        ctx.lineWidth = 1;
        ctx.strokeRect(x.getPixelForValue(kmBarLon[0]), barTop, x.getPixelForValue(kmBarLon[5]) - x.getPixelForValue(kmBarLon[0]), barBottom - barTop);
        kmBarLon.forEach((lon) => {
            const p = Math.round(x.getPixelForValue(lon)) + 0.5;
            ctx.beginPath();
            ctx.moveTo(p, barBottom);
            ctx.lineTo(p, barBottom + 2.5);
            ctx.stroke();
        });
        kmLabelLon.forEach((lon) => {
            const p = Math.round(x.getPixelForValue(lon)) + 0.5;
            ctx.beginPath();
            ctx.moveTo(p, barBottom);
            ctx.lineTo(p, barBottom + 5.5);
            ctx.stroke();
        });

        ctx.fillStyle = '#000';
        ctx.textAlign = 'center';
        ctx.font = `22.5px "${FONT}"`;
        kmLabels.forEach((label, i) => {
            ctx.fillText(label, x.getPixelForValue(kmLabelLon[i]), barBottom + 25);
        });
        ctx.font = `30px "${FONT}"`;
        ctx.fillText('km', x.getPixelForValue(kmLabelLon[1]), barTop - 18.5);
        ctx.restore();
    }
};

// title that reads upward on the right hand axis
const rightTitle = {
    id: 'rightTitle',
    afterDraw(chart) {
        const { ctx, chartArea: a } = chart;
        ctx.save();
        ctx.translate(a.right + 85, (a.top + a.bottom) / 2);
        ctx.rotate(-Math.PI / 2);
        ctx.fillStyle = '#000';
        ctx.textAlign = 'center';
        ctx.textBaseline = 'middle';
        ctx.font = `31.5px "${FONT}"`;
        ctx.fillText('Depth [km]', 0, 0);
        ctx.restore();
    }
};

const starImage = () => {
    const size = 44, outer = 20, inner = 8;
    const c = document.createElement('canvas');
    c.width = c.height = size;
    const g = c.getContext('2d');
    g.beginPath();
    for (let i = 0; i < 10; i++) {
        const r = i % 2 ? inner : outer;
        const t = -Math.PI / 2 + i * Math.PI / 5;
        g.lineTo(size / 2 + r * Math.cos(t), size / 2 + r * Math.sin(t));
    }
    g.closePath();
    g.fillStyle = '#b5b500';
    g.fill();
    g.strokeStyle = '#222';
    g.lineWidth = 1;
    g.stroke();
    return c;
};

// --- CHARTS ---
const legendMarks = legendDelays.map((d, i) => ({ x: legendMarkLon, y: legendMarkLat[i], delay: d }));
const legendRings = legendMarks.filter((m) => m.delay < 0);
const legendCrosses = legendMarks.filter((m) => m.delay > 0);

new Chart(document.getElementById('map-chart'), {
    type: 'scatter',
    data: {
        datasets: [
            { data: epicenter, pointStyle: starImage(), showLine: false },
            dotsDataset(quakesMap),
            { data: legendRings, pointStyle: 'circle', pointRadius: legendRings.map((m) => Math.abs(m.delay) * RING_PX + 0.5), pointBorderWidth: 5, pointBorderColor: '#999', pointBackgroundColor: 'transparent', showLine: false },
            { data: legendCrosses, pointStyle: 'cross', pointRadius: legendCrosses.map((m) => m.delay * CROSS_PX), pointBorderWidth: legendCrosses.map((m) => 15 * m.delay + 3), pointBorderColor: '#666', showLine: false },
            { data: asXY(crossLon, crossLat), pointStyle: 'cross', pointRadius: crossDelay.map((d) => d * CROSS_PX), pointBorderWidth: 5.5, pointBorderColor: '#666', showLine: false },
            { data: asXY(ringLon, ringLat), pointStyle: 'circle', pointRadius: ringDelay.map((d) => d * RING_PX), pointBorderWidth: 5.5, pointBorderColor: '#999', pointBackgroundColor: 'transparent', showLine: false },
            { data: squareStations, pointStyle: 'rect', pointRadius: 9.5, pointBorderWidth: 5.5, pointBorderColor: '#888', pointBackgroundColor: 'transparent', showLine: false },
            { data: filledStation, pointStyle: 'circle', pointRadius: 6.5, pointBorderWidth: 0, pointBackgroundColor: '#999', showLine: false },
            ...coastLines.map((line) => ({ data: line, showLine: true, pointRadius: 0, borderColor: '#000', borderWidth: 1 }))
        ]
    },
    options: baseOptions({
        layout: { autoPadding: false, padding: { right: 23, bottom: 11 } },
        scales: {
            x: axisBase({
                position: 'top', min: -86.5, max: -81.8, afterFit: fixHeight(39),
                ticks: { stepSize: 0.5, includeBounds: false, autoSkip: false, maxRotation: 0, padding: 5, color: '#000', font: tickFont, callback: degLabel }
            }),
            y: axisBase({
                position: 'left', min: 7.5, max: 11.5, afterFit: fixWidth(109),
                ticks: { stepSize: 0.5, autoSkip: false, padding: 14, color: '#000', font: tickFont, callback: degLabel }
            })
        }
    }),
    plugins: [checkerFrame, mapLabels, panelFrame([
        { scale: 'x', side: 'top', values: lonMajor, len: 13 },
        { scale: 'y', side: 'left', values: latMajor, len: 13 }
    ], false)]
});

new Chart(document.getElementById('lat-chart'), {
    type: 'scatter',
    data: { datasets: [dotsDataset(quakesDepthLat)] },
    options: baseOptions({
        layout: { autoPadding: false, padding: { left: 26, right: 65.5, bottom: 11 } },
        scales: {
            x: axisBase({
                position: 'top', min: 0, max: 130, afterFit: fixHeight(39),
                grid: dotted(), border: { display: false, dash: [1, 2] },
                ticks: { stepSize: 10, autoSkip: false, maxRotation: 0, padding: 7, color: '#000', font: tickFont, callback: (v) => v % 20 === 0 ? String(v) : '' }
            }),
            y: axisBase({
                position: 'right', min: 7.5, max: 11.5, afterFit: fixWidth(38),
                ticks: { stepSize: 0.5, autoSkip: false, crossAlign: 'far', color: '#000', font: tickFont, callback: degLabel }
            })
        }
    }),
    plugins: [panelFrame([
        { scale: 'x', side: 'top', values: depthLabelled, len: 5 },
        { scale: 'x', side: 'bottom', values: depthLabelled, len: 5 },
        { scale: 'y', side: 'left', values: latMajor, len: 13 },
        { scale: 'y', side: 'right', values: latMajor, len: 13 },
        { scale: 'y', side: 'left', values: latMinor, len: 7 },
        { scale: 'y', side: 'right', values: latMinor, len: 7 }
    ], true)]
});

new Chart(document.getElementById('lon-chart'), {
    type: 'scatter',
    data: { datasets: [dotsDataset(quakesLonDepth)] },
    options: baseOptions({
        layout: { autoPadding: false, padding: { top: 15.7, right: 23, bottom: 32.3 } },
        scales: {
            x: axisBase({
                position: 'bottom', min: -86.5, max: -81.8, afterFit: fixHeight(50),
                ticks: { stepSize: 0.5, includeBounds: false, autoSkip: false, maxRotation: 0, padding: 8, color: '#000', font: tickFont, callback: degLabel }
            }),
            y: axisBase({
                position: 'left', reverse: true, min: 0, max: 130, afterFit: fixWidth(109),
                grid: dotted(), border: { display: false, dash: [1, 2] },
                title: { display: true, text: 'Depth (km)', color: '#000', font: titleFont, padding: { top: 9, bottom: 0 } },
                ticks: { stepSize: 10, autoSkip: false, padding: 13, color: '#000', font: tickFont, callback: (v) => v % 20 === 0 ? String(v) : '' }
            })
        }
    }),
    plugins: [panelFrame([
        { scale: 'x', side: 'top', values: lonMajor, len: 13 },
        { scale: 'x', side: 'bottom', values: lonMajor, len: 13 },
        { scale: 'x', side: 'top', values: lonMinor, len: 5 },
        { scale: 'x', side: 'bottom', values: lonMinor, len: 5 }
    ], true)]
});

new Chart(document.getElementById('vel-chart'), {
    type: 'scatter',
    data: {
        datasets: [{
            data: asXY(velocitySteps, depthSteps),
            showLine: true,
            pointRadius: 0,
            borderColor: '#000',
            borderWidth: 5,
            borderJoinStyle: 'miter'
        }]
    },
    options: baseOptions({
        layout: { autoPadding: false, padding: { top: 15.7, left: 26, right: 57.7 } },
        scales: {
            x: axisBase({
                position: 'bottom', min: 3, max: 9, afterFit: fixHeight(82.3),
                grid: dotted(), border: { display: false, dash: [1, 2] },
                title: { display: true, text: 'P-Velocity[km/s]', color: '#000', font: titleFont, padding: { top: 2, bottom: 0 } },
                ticks: { stepSize: 0.5, autoSkip: false, maxRotation: 0, padding: 8, color: '#000', font: tickFont, callback: (v) => Number.isInteger(v) ? String(v) : '' }
            }),
            y: axisBase({
                position: 'right', reverse: true, min: 0, max: 130, afterFit: fixWidth(49),
                grid: dotted((ctx) => ctx.tick && ctx.tick.value % 20 === 0 ? '#8a8a8a' : 'transparent'),
                border: { display: false, dash: [1, 2] },
                ticks: { stepSize: 10, autoSkip: false, crossAlign: 'far', color: '#000', font: tickFont, callback: isOneOf([0, 50, 100]) }
            })
        }
    }),
    plugins: [rightTitle, panelFrame([
        { scale: 'x', side: 'bottom', values: velMajor, len: 13 },
        { scale: 'x', side: 'bottom', values: velMinor, len: 5 },
        { scale: 'x', side: 'top', values: velMajor, len: 4 },
        { scale: 'x', side: 'top', values: velMinor, len: 4 },
        { scale: 'y', side: 'left', values: depthMajor, len: 13 },
        { scale: 'y', side: 'right', values: depthMajor, len: 13 },
        { scale: 'y', side: 'left', values: depthMinor, len: 7 },
        { scale: 'y', side: 'right', values: depthMinor, len: 7 }
    ], true)]
});
</script>
</body>
</html>
